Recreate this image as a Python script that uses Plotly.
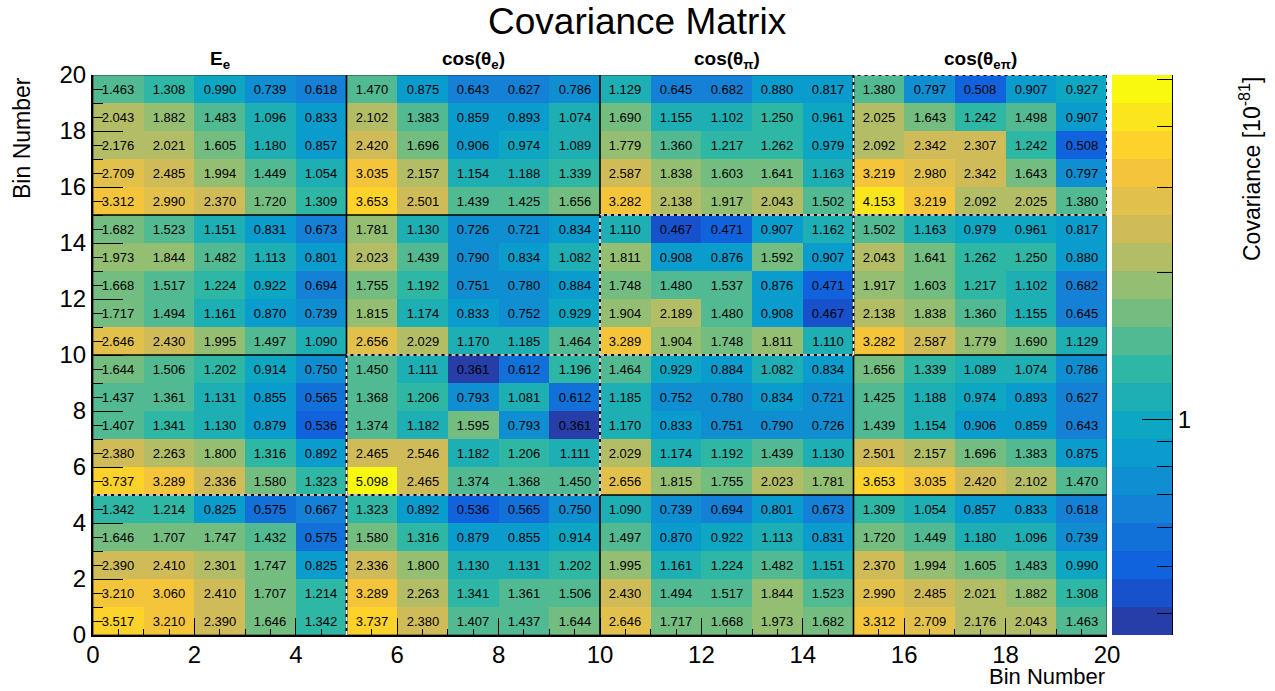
import numpy as np
import plotly.graph_objects as go

# ---------------- data ----------------
# covariance values [1e-81]; rows listed from top (bin 19) to bottom (bin 0); columns bin 0..19
rows_top_to_bottom = [
    [1.463, 1.308, 0.990, 0.739, 0.618, 1.470, 0.875, 0.643, 0.627, 0.786, 1.129, 0.645, 0.682, 0.880, 0.817, 1.380, 0.797, 0.508, 0.907, 0.927],
    [2.043, 1.882, 1.483, 1.096, 0.833, 2.102, 1.383, 0.859, 0.893, 1.074, 1.690, 1.155, 1.102, 1.250, 0.961, 2.025, 1.643, 1.242, 1.498, 0.907],
    [2.176, 2.021, 1.605, 1.180, 0.857, 2.420, 1.696, 0.906, 0.974, 1.089, 1.779, 1.360, 1.217, 1.262, 0.979, 2.092, 2.342, 2.307, 1.242, 0.508],
    [2.709, 2.485, 1.994, 1.449, 1.054, 3.035, 2.157, 1.154, 1.188, 1.339, 2.587, 1.838, 1.603, 1.641, 1.163, 3.219, 2.980, 2.342, 1.643, 0.797],
    [3.312, 2.990, 2.370, 1.720, 1.309, 3.653, 2.501, 1.439, 1.425, 1.656, 3.282, 2.138, 1.917, 2.043, 1.502, 4.153, 3.219, 2.092, 2.025, 1.380],
    [1.682, 1.523, 1.151, 0.831, 0.673, 1.781, 1.130, 0.726, 0.721, 0.834, 1.110, 0.467, 0.471, 0.907, 1.162, 1.502, 1.163, 0.979, 0.961, 0.817],
    [1.973, 1.844, 1.482, 1.113, 0.801, 2.023, 1.439, 0.790, 0.834, 1.082, 1.811, 0.908, 0.876, 1.592, 0.907, 2.043, 1.641, 1.262, 1.250, 0.880],
    [1.668, 1.517, 1.224, 0.922, 0.694, 1.755, 1.192, 0.751, 0.780, 0.884, 1.748, 1.480, 1.537, 0.876, 0.471, 1.917, 1.603, 1.217, 1.102, 0.682],
    [1.717, 1.494, 1.161, 0.870, 0.739, 1.815, 1.174, 0.833, 0.752, 0.929, 1.904, 2.189, 1.480, 0.908, 0.467, 2.138, 1.838, 1.360, 1.155, 0.645],
    [2.646, 2.430, 1.995, 1.497, 1.090, 2.656, 2.029, 1.170, 1.185, 1.464, 3.289, 1.904, 1.748, 1.811, 1.110, 3.282, 2.587, 1.779, 1.690, 1.129],
    [1.644, 1.506, 1.202, 0.914, 0.750, 1.450, 1.111, 0.361, 0.612, 1.196, 1.464, 0.929, 0.884, 1.082, 0.834, 1.656, 1.339, 1.089, 1.074, 0.786],
    [1.437, 1.361, 1.131, 0.855, 0.565, 1.368, 1.206, 0.793, 1.081, 0.612, 1.185, 0.752, 0.780, 0.834, 0.721, 1.425, 1.188, 0.974, 0.893, 0.627],
    [1.407, 1.341, 1.130, 0.879, 0.536, 1.374, 1.182, 1.595, 0.793, 0.361, 1.170, 0.833, 0.751, 0.790, 0.726, 1.439, 1.154, 0.906, 0.859, 0.643],
    [2.380, 2.263, 1.800, 1.316, 0.892, 2.465, 2.546, 1.182, 1.206, 1.111, 2.029, 1.174, 1.192, 1.439, 1.130, 2.501, 2.157, 1.696, 1.383, 0.875],
    [3.737, 3.289, 2.336, 1.580, 1.323, 5.098, 2.465, 1.374, 1.368, 1.450, 2.656, 1.815, 1.755, 2.023, 1.781, 3.653, 3.035, 2.420, 2.102, 1.470],
    [1.342, 1.214, 0.825, 0.575, 0.667, 1.323, 0.892, 0.536, 0.565, 0.750, 1.090, 0.739, 0.694, 0.801, 0.673, 1.309, 1.054, 0.857, 0.833, 0.618],
    [1.646, 1.707, 1.747, 1.432, 0.575, 1.580, 1.316, 0.879, 0.855, 0.914, 1.497, 0.870, 0.922, 1.113, 0.831, 1.720, 1.449, 1.180, 1.096, 0.739],
    [2.390, 2.410, 2.301, 1.747, 0.825, 2.336, 1.800, 1.130, 1.131, 1.202, 1.995, 1.161, 1.224, 1.482, 1.151, 2.370, 1.994, 1.605, 1.483, 0.990],
    [3.210, 3.060, 2.410, 1.707, 1.214, 3.289, 2.263, 1.341, 1.361, 1.506, 2.430, 1.494, 1.517, 1.844, 1.523, 2.990, 2.485, 2.021, 1.882, 1.308],
    [3.517, 3.210, 2.390, 1.646, 1.342, 3.737, 2.380, 1.407, 1.437, 1.644, 2.646, 1.717, 1.668, 1.973, 1.682, 3.312, 2.709, 2.176, 2.043, 1.463],
]
block_edges = [0, 5, 10, 15, 20]
block_labels = ["<b>E<sub>e</sub></b>", "<b>cos(θ<sub>e</sub>)</b>",
                "<b>cos(θ<sub>π</sub>)</b>", "<b>cos(θ<sub>eπ</sub>)</b>"]
cbar_major_vals = [1]
cbar_major_text = ["1"]
cbar_minor_vals = [0.4, 0.5, 0.6, 0.7, 0.8, 0.9, 2, 3, 4, 5]
title_text = "Covariance Matrix"
axis_title = "Bin Number"
cbar_title = "Covariance [10<sup>-81</sup>]"

# ---------------- derived ----------------
cov = np.array(rows_top_to_bottom[::-1])          # cov[ybin][xbin]
n_bins = cov.shape[0]
bin_centers = np.arange(n_bins) + 0.5
lzmin, lzmax = np.log10(cov.min()), np.log10(cov.max())
n_levels = 20

# ROOT kBird palette
bird_stops = [0.0, 0.125, 0.25, 0.375, 0.5, 0.625, 0.75, 0.875, 1.0]
bird_r = [0.2082, 0.0592, 0.0780, 0.0232, 0.1802, 0.5301, 0.8186, 0.9956, 0.9764]
bird_g = [0.1664, 0.3599, 0.5041, 0.6419, 0.7178, 0.7492, 0.7328, 0.7862, 0.9832]
bird_b = [0.5293, 0.8684, 0.8385, 0.7914, 0.6425, 0.4662, 0.3499, 0.1968, 0.0539]


def bird(pos):
    r = np.interp(pos, bird_stops, bird_r)
    g = np.interp(pos, bird_stops, bird_g)
    b = np.interp(pos, bird_stops, bird_b)
    return "rgb(%d,%d,%d)" % (round(r * 255), round(g * 255), round(b * 255))


colorscale = []
for i in range(n_levels):
    idx = int((i + 0.99) * 255 / n_levels)
    c = bird(min(idx / 255.0, 1.0))
    colorscale.append([i / n_levels, c])
    colorscale.append([(i + 1) / n_levels, c])

text = [["%.3f" % v for v in row] for row in cov]

FONT = "Liberation Sans, Arial, sans-serif"
W, H = 1275, 691
fx0, fx1, fy_top, fy_bot = 93, 1107, 75, 635
cbx0, cbx1 = 1112, 1172


def px(x):
    return x / W


def py(y):
    return (H - y) / H


xdom = [px(fx0), px(fx1)]
ydom = [py(fy_bot), py(fy_top)]

fig = go.Figure()
fig.add_trace(go.Heatmap(
    x=bin_centers, y=bin_centers, z=np.log10(cov),
    zmin=lzmin, zmax=lzmax, colorscale=colorscale, showscale=False,
    text=text, texttemplate="%{text}",
    textfont=dict(size=13, color="black", family=FONT),
    hoverinfo="skip", xaxis="x", yaxis="y"))

levels = np.linspace(lzmin, lzmax, n_levels + 1)
centers = (levels[:-1] + levels[1:]) / 2
fig.add_trace(go.Heatmap(
    x=[0], y=centers, z=centers.reshape(-1, 1),
    zmin=lzmin, zmax=lzmax, colorscale=colorscale, showscale=False,
    hoverinfo="skip", xaxis="x2", yaxis="y2"))

tickfont = dict(size=24, color="black", family=FONT)
fig.update_layout(
    template="none",
    width=W, height=H, margin=dict(l=0, r=0, t=0, b=0, pad=0, autoexpand=False),
    paper_bgcolor="white", plot_bgcolor="white", showlegend=False,
    xaxis=dict(domain=xdom, range=[0, n_bins], anchor="y", automargin=False,
               tickmode="linear", tick0=0, dtick=2, ticks="inside", ticklen=17,
               tickcolor="black", tickwidth=1, tickfont=tickfont,
               ticklabelstandoff=-3,
               showline=True, linecolor="black", linewidth=2, mirror=False,
               showgrid=False, zeroline=False,
               minor=dict(dtick=0.5, tick0=0, ticks="inside", ticklen=6,
                          tickcolor="black", tickwidth=1, showgrid=False)),
    yaxis=dict(domain=ydom, range=[0, n_bins], anchor="x", automargin=False,
               tickmode="linear", tick0=0, dtick=2, ticks="inside", ticklen=30,
               tickcolor="black", tickwidth=1, tickfont=tickfont,
               showline=True, linecolor="black", linewidth=2, mirror=False,
               showgrid=False, zeroline=False,
               minor=dict(dtick=0.5, tick0=0, ticks="inside", ticklen=10,
                          tickcolor="black", tickwidth=1, showgrid=False)),
    xaxis3=dict(domain=xdom, range=[0, n_bins], overlaying="x", anchor="y",
                automargin=False,
                tickmode="linear", tick0=0, dtick=1, ticks="inside", ticklen=9,
                tickcolor="black", tickwidth=1, showticklabels=False,
                showline=False, showgrid=False, zeroline=False),
    yaxis3=dict(domain=ydom, range=[0, n_bins], overlaying="y", anchor="x",
                automargin=False,
                tickmode="linear", tick0=0, dtick=1, ticks="inside", ticklen=17,
                tickcolor="black", tickwidth=1, showticklabels=False,
                showline=False, showgrid=False, zeroline=False),
    xaxis2=dict(domain=[px(cbx0), px(cbx1)], range=[-0.5, 0.5], anchor="y2",
                visible=False, fixedrange=True, automargin=False),
    yaxis2=dict(domain=ydom, range=[lzmin, lzmax], anchor="x2", side="right",
                automargin=False,
                tickmode="array", tickvals=list(np.log10(cbar_major_vals)),
                ticktext=cbar_major_text, ticks="inside", ticklen=30,
                tickcolor="black", tickwidth=1, tickfont=tickfont,
                showline=True, linecolor="black", linewidth=1,
                showgrid=False, zeroline=False,
                minor=dict(tickmode="array", tickvals=list(np.log10(cbar_minor_vals)),
                           ticks="inside", ticklen=15, tickcolor="black",
                           tickwidth=1, showgrid=False)),
)

shapes = []
inner = block_edges[1:-1]
for b in inner:
    shapes.append(dict(type="line", xref="x", yref="y", x0=b, x1=b, y0=0, y1=n_bins,
                       line=dict(color="black", width=1.6), layer="above"))
    shapes.append(dict(type="line", xref="x", yref="y", x0=0, x1=n_bins, y0=b, y1=b,
                       line=dict(color="black", width=1.6), layer="above"))
shapes.append(dict(type="rect", xref="x", yref="y", x0=0, x1=n_bins, y0=0, y1=n_bins,
                   line=dict(color="#333333", width=1), layer="above"))
for k in range(len(block_edges) - 1):
    lo, hi = block_edges[k], block_edges[k + 1]
    segs = [(lo, lo, hi, lo), (lo, hi, hi, hi), (lo, lo, lo, hi), (hi, lo, hi, hi)]
    for (x0, y0, x1, y1) in segs:
        if (x0 == 0 and x1 == 0) or (y0 == 0 and y1 == 0):
            continue
        shapes.append(dict(type="line", xref="x", yref="y", x0=x0, x1=x1, y0=y0, y1=y1,
                           line=dict(color="black", width=1.6), layer="above"))
        shapes.append(dict(type="line", xref="x", yref="y", x0=x0, x1=x1, y0=y0, y1=y1,
                           line=dict(color="white", width=1.6, dash="4px,3px"),
                           layer="above"))
fig.update_layout(shapes=shapes)

annotations = [
    dict(text=title_text, xref="paper", yref="paper", x=px(637), y=py(21),
         xanchor="center", yanchor="middle", showarrow=False,
         font=dict(size=37, color="black", family=FONT)),
    dict(text=axis_title, xref="paper", yref="paper", x=px(fx1), y=0,
         xanchor="right", yanchor="bottom", showarrow=False,
         font=dict(size=22, color="black", family=FONT)),
    dict(text=axis_title, xref="paper", yref="paper", x=px(22), y=py(fy_top),
         xanchor="center", yanchor="top", textangle=-90, showarrow=False,
         font=dict(size=23, color="black", family=FONT)),
    dict(text=cbar_title, xref="paper", yref="paper", x=px(1250), y=py(fy_top),
         xanchor="center", yanchor="top", textangle=-90, showarrow=False,
         font=dict(size=23, color="black", family=FONT)),
]
for k, lab in enumerate(block_labels):
    annotations.append(dict(text=lab, xref="x", yref="paper",
                            x=(block_edges[k] + block_edges[k + 1]) / 2, y=py(60),
                            xanchor="center", yanchor="middle", showarrow=False,
                            font=dict(size=19, color="black", family=FONT)))
fig.update_layout(annotations=annotations)

fig.write_html("out.html", config={"displayModeBar": False},
               post_script="document.body.style.margin='0';document.body.style.overflow='hidden';")
